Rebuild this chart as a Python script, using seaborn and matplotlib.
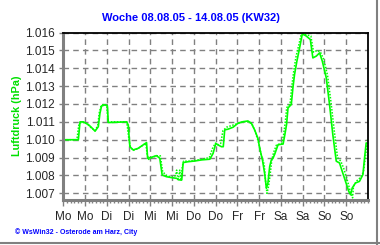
import numpy as np
import pandas as pd
import matplotlib
matplotlib.use("Agg")
import matplotlib.pyplot as plt
from matplotlib.ticker import MultipleLocator, FormatStrFormatter
from matplotlib.lines import Line2D
import seaborn as sns

# hours since Monday 00:00, pressure as shown on the axis
hours_solid = [0, 8.3, 9.2, 11.0, 13.8, 15.6, 17.5, 19.3, 20.2, 21.1, 23.0, 24.3, 24.8,
               34.9, 35.8, 36.7, 38.5, 41.3, 45.9, 46.5, 48.7, 51.4, 53.2, 54.5, 56.9,
               59.7, 62.4, 64.2, 65.3, 66.1, 68.8, 72.5, 76.2, 80.8, 82.6, 84.1, 85.3,
               87.2, 88.2, 89.0, 90.8, 93.6, 96.3, 99.1, 101.8, 103.7, 105.5, 107.3,
               108.3, 109.8, 111.0, 112.0, 112.8, 113.8, 114.7, 115.6, 116.6, 118.4,
               121.2, 122.1, 123.1, 123.9, 125.7, 126.6, 127.5, 128.8, 130.3, 131.8,
               134.0, 136.2, 137.6, 139.5, 141.3, 142.8, 145.0, 146.8, 148.6, 150.5,
               152.3, 153.8, 155.6, 157.4, 158.4, 159.3, 161.1, 163.3, 165.2, 166.1, 167.0]
pressure_solid = [1.0100, 1.0100, 1.0110, 1.0110, 1.01085, 1.01068, 1.01048, 1.01073,
                  1.01148, 1.01189, 1.01195, 1.0119, 1.01096, 1.0110, 1.01083, 1.00961,
                  1.00943, 1.00952, 1.00984, 1.00896, 1.00902, 1.00911, 1.00896, 1.00803,
                  1.00793, 1.00788, 1.00784, 1.00775, 1.00775, 1.00872, 1.00877, 1.00881,
                  1.00887, 1.00891, 1.00924, 1.0098, 1.00971, 1.00961, 1.00961, 1.01055,
                  1.01059, 1.0107, 1.01092, 1.01101, 1.01105, 1.01092, 1.01055, 1.01008,
                  1.00952, 1.00887, 1.00812, 1.00728, 1.00756, 1.0085, 1.00887, 1.00896,
                  1.0092, 1.00972, 1.00976, 1.01025, 1.01085, 1.01178, 1.01197, 1.0129,
                  1.01365, 1.0144, 1.01514, 1.01593, 1.0158, 1.01561, 1.01458, 1.01468,
                  1.01486, 1.0144, 1.01346, 1.01197, 1.01029, 1.0088, 1.0087, 1.00823,
                  1.00767, 1.00711, 1.00692, 1.0073, 1.00758, 1.00767, 1.00805, 1.00898,
                  1.00982]

hours_dotted = [0, 7.5, 8.5, 10, 13, 15, 17.5, 19, 19.8, 20.8, 22.5, 24.0, 24.6, 35,
                36.2, 37, 38.5, 41, 45.5, 46.2, 47, 49, 51, 53.5, 54.8, 57, 60, 62, 62.5,
                63.3, 64.2, 65, 65.6, 66.3, 70, 76, 80.5, 82.2, 83.8, 85, 86.8, 88, 90,
                93, 96, 99, 102, 104, 106, 107.8, 109, 110.8, 111.5, 112.3, 113.2, 114,
                115, 116, 117.5, 120.5, 121.5, 122.4, 123.2, 125, 126, 127, 128.2, 129.6,
                131.2, 133.5, 136.5, 138, 140, 141.8, 143.6, 145.7, 147.6, 149.4, 151.2,
                153, 154.6, 156.4, 158, 159.5, 160, 161.8, 164, 165.5, 166.8, 167.7]
pressure_dotted = [1.0100, 1.0100, 1.0108, 1.0110, 1.0109, 1.0107, 1.0105, 1.0108,
                   1.0115, 1.0119, 1.0120, 1.0119, 1.0110, 1.0110, 1.0100, 1.0096,
                   1.0094, 1.0095, 1.0098, 1.0092, 1.0089, 1.0090, 1.0091, 1.0091,
                   1.0082, 1.0080, 1.0079, 1.0080, 1.0083, 1.0077, 1.0083, 1.0077,
                   1.0085, 1.0088, 1.0088, 1.0089, 1.0090, 1.0095, 1.0098, 1.0097,
                   1.0098, 1.0105, 1.0107, 1.0108, 1.0109, 1.0110, 1.0110, 1.0109,
                   1.0104, 1.0098, 1.0092, 1.0086, 1.0077, 1.0070, 1.0074, 1.0080,
                   1.0089, 1.0093, 1.0097, 1.0098, 1.0103, 1.0110, 1.0118, 1.0120,
                   1.0130, 1.0138, 1.0146, 1.0152, 1.0159, 1.0159, 1.0158, 1.0149,
                   1.0150, 1.0149, 1.0145, 1.0136, 1.0121, 1.0105, 1.0090, 1.0088,
                   1.0084, 1.0078, 1.0072, 1.00675, 1.0074, 1.0077, 1.0079, 1.0082,
                   1.0092, 1.0100]

day_labels = ["Mo", "Mo", "Di", "Di", "Mi", "Mi", "Do", "Do",
              "Fr", "Fr", "Sa", "Sa", "So", "So"]
y_ticks = [1.007, 1.008, 1.009, 1.010, 1.011, 1.012, 1.013, 1.014, 1.015, 1.016]

df_solid = pd.DataFrame({"h": hours_solid, "p": pressure_solid})
df_dotted = pd.DataFrame({"h": hours_dotted, "p": pressure_dotted})

sns.set_style("white")
plt.rcParams['font.family'] = ['Liberation Sans', 'DejaVu Sans']

fig = plt.figure(figsize=(3.8, 2.45), dpi=100)
ax = fig.add_axes([0.1666, 0.1857, 0.8018, 0.6816])

grey = "#808080"
green = "#00ff00"

sns.lineplot(data=df_dotted, x="h", y="p", ax=ax, color=green, lw=1.1,
             linestyle=(0, (1, 1)), estimator=None, sort=False)
sns.lineplot(data=df_solid, x="h", y="p", ax=ax, color=green, lw=1.2,
             estimator=None, sort=False)

ax.set_xlim(0, 168)
ax.set_ylim(1.006655, 1.016)
ax.set_xticks(np.arange(0, 168, 12))
ax.set_xticklabels(day_labels)
ax.xaxis.set_minor_locator(MultipleLocator(2))
ax.set_yticks(y_ticks)
ax.yaxis.set_major_formatter(FormatStrFormatter('%.3f'))

ax.grid(True, which='major', color=grey, linestyle=(0, (4, 3)), linewidth=1)
ax.set_axisbelow(True)

ax.tick_params(axis='x', which='major', length=4, width=1, color=grey,
               labelsize=8.5, pad=4, bottom=True)
ax.tick_params(axis='x', which='minor', length=2.5, width=1, color=grey, bottom=True)
ax.tick_params(axis='y', which='major', length=3, width=1, color=grey,
               labelsize=8.5, pad=3, left=True)

for side in ["left", "bottom"]:
    ax.spines[side].set_color(grey)
    ax.spines[side].set_linewidth(2.2)
for side in ["top", "right"]:
    ax.spines[side].set_color("black")
    ax.spines[side].set_linewidth(1.3)

ax.set_xlabel("")
ax.set_ylabel("Luftdruck (hPa)", color="#00e000", fontweight="bold", fontsize=7.8,
              labelpad=6)
ax.yaxis.set_label_coords(-0.135, 0.5)

fig.text(0.503, 0.928, "Woche 08.08.05 - 14.08.05 (KW32)", color="#0000ff",
         fontweight="bold", fontsize=8, ha="center", va="center")
fig.text(0.04, 0.054, "\u00a9 WsWin32 - Osterode am Harz, City", color="#0000ff",
         fontweight="bold", fontsize=5, ha="left", va="center")

# outer frame on the right and bottom
fig.add_artist(Line2D([0.993, 0.993], [0.0, 1.0], transform=fig.transFigure,
                      color=grey, lw=1.5))
fig.add_artist(Line2D([0.0, 1.0], [0.008, 0.008], transform=fig.transFigure,
                      color=grey, lw=1.5))

fig.savefig("out.png", dpi=100)
